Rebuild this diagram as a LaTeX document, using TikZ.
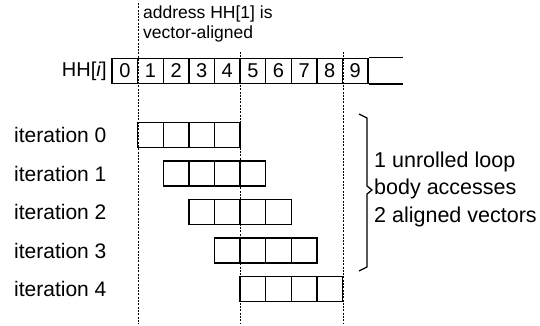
\documentclass[tikz,border=0pt]{standalone}
\usepackage{fontspec}
\setmainfont{Liberation Sans}
\begin{document}
\begin{tikzpicture}[x=1pt,y=-1pt,
  cellbox/.style={draw,line width=1.4pt,minimum width=25.6pt,minimum height=25pt,inner sep=0pt,anchor=west},
  guide/.style={dash pattern=on 2pt off 1.3pt,line width=1.2pt},
  lbl/.style={font=\fontsize{21}{24}\selectfont,inner sep=0pt}]
\useasboundingbox (0,0) rectangle (540,326);
\def\cw{25.6}
% index array HH[i]
\node[lbl,anchor=east,font=\fontsize{20}{24}\selectfont] (hhlbl) at (107,71) {HH[\textit{i}]};
\foreach \k in {0,...,9}{
  \node[cellbox,font=\fontsize{20}{24}\selectfont] (h\k) at ({111.4+\k*\cw},71) {\k};
}
\coordinate (hend) at (403,71);
\draw[line width=1.4pt] (h9.north east) -- (h9.north east -| hend);
\draw[line width=1.4pt] (h9.south east) -- (h9.south east -| hend);
% alignment guides
\coordinate (g0t) at (h0.north east |- 0,3);
\coordinate (g0b) at (h0.north east |- 0,324);
\coordinate (g1t) at (h4.north east |- 0,52);
\coordinate (g1b) at (h4.north east |- 0,324);
\coordinate (g2t) at (h8.north east |- 0,52);
\coordinate (g2b) at (h8.north east |- 0,324);
\draw[guide] (g0t) -- (g0b);
\draw[guide] (g1t) -- (g1b);
\draw[guide] (g2t) -- (g2b);
\node[inner sep=0pt,anchor=north west,align=left,font=\fontsize{17.5}{19.5}\selectfont] (addr) at (143,6) {address HH[1] is\\vector-aligned};
% iterations
\foreach \r in {0,...,4}{
  \node[lbl,anchor=west] (it\r) at (14,{135+\r*38.5}) {iteration \r};
  \foreach \c in {0,...,3}{
    \node[cellbox] (b\r\c) at ({137+(\r+\c)*\cw},{135+\r*38.5}) {};
  }
}
% brace
\draw[line width=1.3pt] (359,114) -- (367,118) -- (367,186) -- (372,190) -- (367,194) -- (367,267) -- (359,271);
\node[inner sep=0pt,anchor=west,align=left,font=\fontsize{21.5}{27.5}\selectfont] (sum) at (374,189) {1 unrolled loop\\body accesses\\2 aligned vectors};
\end{tikzpicture}
\end{document}
